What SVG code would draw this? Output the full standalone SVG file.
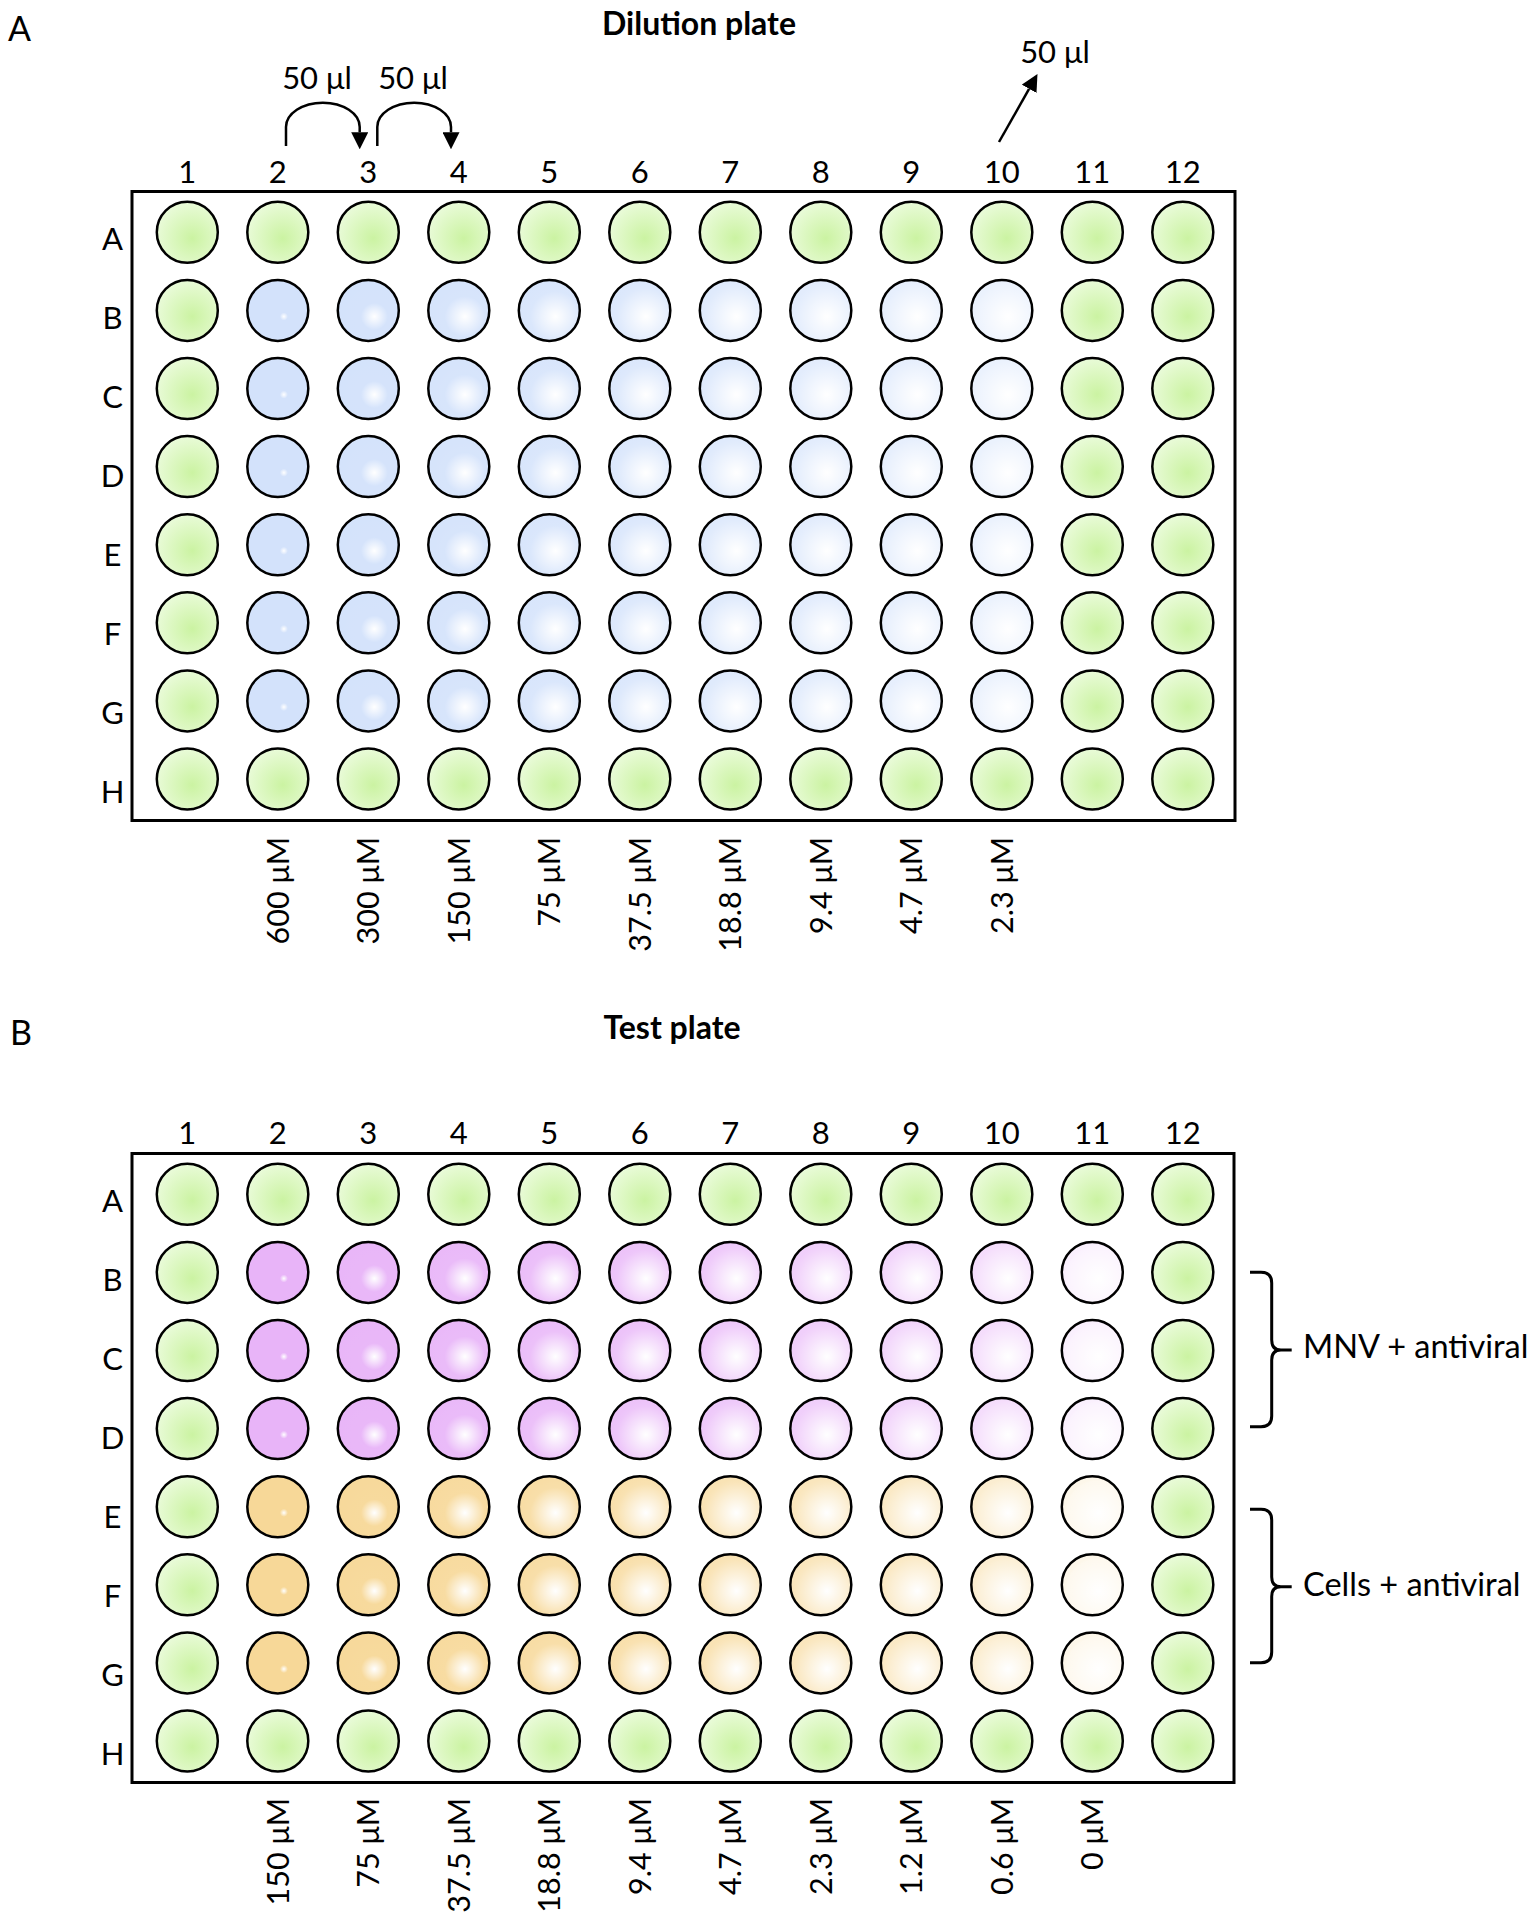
<svg xmlns="http://www.w3.org/2000/svg" width="1533" height="1920" viewBox="0 0 1533 1920">
<defs>
<radialGradient id="gg" cx="0.58" cy="0.6" r="0.6"><stop offset="0" stop-color="#cbf3a2"/><stop offset="1" stop-color="#e9fbd8"/></radialGradient>
<radialGradient id="h2" cx="0.6" cy="0.6" r="0.55"><stop offset="0" stop-color="#fff" stop-opacity="1"/><stop offset="0.12" stop-color="#fff" stop-opacity="0"/><stop offset="1" stop-color="#fff" stop-opacity="0"/></radialGradient>
<radialGradient id="h3" cx="0.6" cy="0.6" r="0.55"><stop offset="0" stop-color="#fff" stop-opacity="1"/><stop offset="0.4" stop-color="#fff" stop-opacity="0.05"/><stop offset="1" stop-color="#fff" stop-opacity="0.03"/></radialGradient>
<radialGradient id="h4" cx="0.6" cy="0.6" r="0.55"><stop offset="0" stop-color="#fff" stop-opacity="1"/><stop offset="0.6" stop-color="#fff" stop-opacity="0.1"/><stop offset="1" stop-color="#fff" stop-opacity="0.07"/></radialGradient>
<radialGradient id="h5" cx="0.6" cy="0.6" r="0.55"><stop offset="0" stop-color="#fff" stop-opacity="1"/><stop offset="0.75" stop-color="#fff" stop-opacity="0.17"/><stop offset="1" stop-color="#fff" stop-opacity="0.13"/></radialGradient>
<radialGradient id="h6" cx="0.6" cy="0.6" r="0.55"><stop offset="0" stop-color="#fff" stop-opacity="1"/><stop offset="0.85" stop-color="#fff" stop-opacity="0.25"/><stop offset="1" stop-color="#fff" stop-opacity="0.2"/></radialGradient>
<radialGradient id="h7" cx="0.6" cy="0.6" r="0.55"><stop offset="0" stop-color="#fff" stop-opacity="1"/><stop offset="0.9" stop-color="#fff" stop-opacity="0.33"/><stop offset="1" stop-color="#fff" stop-opacity="0.28"/></radialGradient>
<radialGradient id="h8" cx="0.6" cy="0.6" r="0.55"><stop offset="0" stop-color="#fff" stop-opacity="1"/><stop offset="0.9" stop-color="#fff" stop-opacity="0.41"/><stop offset="1" stop-color="#fff" stop-opacity="0.36"/></radialGradient>
<radialGradient id="h9" cx="0.6" cy="0.6" r="0.55"><stop offset="0" stop-color="#fff" stop-opacity="1"/><stop offset="0.92" stop-color="#fff" stop-opacity="0.5"/><stop offset="1" stop-color="#fff" stop-opacity="0.45"/></radialGradient>
<radialGradient id="h10" cx="0.6" cy="0.6" r="0.55"><stop offset="0" stop-color="#fff" stop-opacity="1"/><stop offset="0.92" stop-color="#fff" stop-opacity="0.6"/><stop offset="1" stop-color="#fff" stop-opacity="0.55"/></radialGradient>
<radialGradient id="h11" cx="0.6" cy="0.6" r="0.55"><stop offset="0" stop-color="#fff" stop-opacity="1"/><stop offset="0.95" stop-color="#fff" stop-opacity="0.84"/><stop offset="1" stop-color="#fff" stop-opacity="0.8"/></radialGradient>
<marker id="ah" viewBox="0 0 17 17" refX="0" refY="8.5" markerWidth="17" markerHeight="17" markerUnits="userSpaceOnUse" orient="auto"><path d="M0,0 L17,8.5 L0,17 z" fill="#000"/></marker>
<style>
text{font-family:Lato,"Open Sans","Liberation Sans",sans-serif;fill:#000;font-size:31px}
.t{font-weight:bold;font-size:32px;text-anchor:middle}
.p{font-size:34px}
.c{text-anchor:middle}
.r{text-anchor:middle}
.v{text-anchor:end;font-size:30.5px}
.bt{font-size:32.5px}
.plate{fill:#fff;stroke:#000;stroke-width:3}
.gr{fill:url(#gg);stroke:#000;stroke-width:2.5}
.b{fill:#d3e2fb}
.k{fill:#e8b4f8}
.y{fill:#f7d898}
.o{stroke:#000;stroke-width:2.5}
.h2{fill:url(#h2)}.h3{fill:url(#h3)}.h4{fill:url(#h4)}.h5{fill:url(#h5)}.h6{fill:url(#h6)}.h7{fill:url(#h7)}.h8{fill:url(#h8)}.h9{fill:url(#h9)}.h10{fill:url(#h10)}.h11{fill:url(#h11)}
.ln{fill:none;stroke:#000;stroke-width:2.5}
.br{fill:none;stroke:#000;stroke-width:3}
</style>
</defs>
<rect width="1533" height="1920" fill="#fff"/>

<g id="labelsA">
<text class="p" x="8" y="41">A</text>
<text class="t" x="699" y="35">Dilution plate</text>
<g id="colsA">
<text class="c" x="187.3" y="183">1</text><text class="c" x="277.8" y="183">2</text><text class="c" x="368.3" y="183">3</text><text class="c" x="458.8" y="183">4</text><text class="c" x="549.3" y="183">5</text><text class="c" x="639.8" y="183">6</text><text class="c" x="730.3" y="183">7</text><text class="c" x="820.8" y="183">8</text><text class="c" x="911.3" y="183">9</text><text class="c" x="1001.8" y="183">10</text><text class="c" x="1092.3" y="183">11</text><text class="c" x="1182.8" y="183">12</text>
</g>
<g id="rowsA">
<text class="r" x="112.5" y="249.7">A</text><text class="r" x="112.5" y="328.7">B</text><text class="r" x="112.5" y="407.7">C</text><text class="r" x="112.5" y="486.7">D</text><text class="r" x="112.5" y="565.7">E</text><text class="r" x="112.5" y="644.7">F</text><text class="r" x="112.5" y="723.7">G</text><text class="r" x="112.5" y="802.7">H</text>
</g>
<g id="concA">
<text class="v" transform="translate(288.8,837) rotate(-90)">600 μM</text>
<text class="v" transform="translate(379.3,837) rotate(-90)">300 μM</text>
<text class="v" transform="translate(469.8,837) rotate(-90)">150 μM</text>
<text class="v" transform="translate(560.3,837) rotate(-90)">75 μM</text>
<text class="v" transform="translate(650.8,837) rotate(-90)">37.5 μM</text>
<text class="v" transform="translate(741.3,837) rotate(-90)">18.8 μM</text>
<text class="v" transform="translate(831.8,837) rotate(-90)">9.4 μM</text>
<text class="v" transform="translate(922.3,837) rotate(-90)">4.7 μM</text>
<text class="v" transform="translate(1012.8,837) rotate(-90)">2.3 μM</text>
</g>
<text class="c" x="317" y="89">50 μl</text>
<text class="c" x="413" y="89">50 μl</text>
<text class="c" x="1055" y="63">50 μl</text>
</g>

<g id="connectors">
<path class="ln" marker-end="url(#ah)" d="M286,146 V127 A36.85,24.3 0 0 1 359.7,127 V132.3"/>
<path class="ln" marker-end="url(#ah)" d="M377.3,146 V127 A36.85,24.3 0 0 1 451,127 V132.3"/>
<path class="ln" marker-end="url(#ah)" d="M999,142 L1029.1,88.8"/>
</g>

<g id="plateA">
<rect class="plate" x="132" y="191.5" width="1103" height="629"/>
<g id="A-rowA">
<circle class="gr" cx="187.3" cy="232.3" r="30.5"/><circle class="gr" cx="277.8" cy="232.3" r="30.5"/><circle class="gr" cx="368.3" cy="232.3" r="30.5"/><circle class="gr" cx="458.8" cy="232.3" r="30.5"/><circle class="gr" cx="549.3" cy="232.3" r="30.5"/><circle class="gr" cx="639.8" cy="232.3" r="30.5"/><circle class="gr" cx="730.3" cy="232.3" r="30.5"/><circle class="gr" cx="820.8" cy="232.3" r="30.5"/><circle class="gr" cx="911.3" cy="232.3" r="30.5"/><circle class="gr" cx="1001.8" cy="232.3" r="30.5"/><circle class="gr" cx="1092.3" cy="232.3" r="30.5"/><circle class="gr" cx="1182.8" cy="232.3" r="30.5"/>
</g>
<g id="A-rowB">
<circle class="gr" cx="187.3" cy="310.4" r="30.5"/>
<circle class="b" cx="277.8" cy="310.4" r="30.5"/><circle class="o h2" cx="277.8" cy="310.4" r="30.5"/>
<circle class="b" cx="368.3" cy="310.4" r="30.5"/><circle class="o h3" cx="368.3" cy="310.4" r="30.5"/>
<circle class="b" cx="458.8" cy="310.4" r="30.5"/><circle class="o h4" cx="458.8" cy="310.4" r="30.5"/>
<circle class="b" cx="549.3" cy="310.4" r="30.5"/><circle class="o h5" cx="549.3" cy="310.4" r="30.5"/>
<circle class="b" cx="639.8" cy="310.4" r="30.5"/><circle class="o h6" cx="639.8" cy="310.4" r="30.5"/>
<circle class="b" cx="730.3" cy="310.4" r="30.5"/><circle class="o h7" cx="730.3" cy="310.4" r="30.5"/>
<circle class="b" cx="820.8" cy="310.4" r="30.5"/><circle class="o h8" cx="820.8" cy="310.4" r="30.5"/>
<circle class="b" cx="911.3" cy="310.4" r="30.5"/><circle class="o h9" cx="911.3" cy="310.4" r="30.5"/>
<circle class="b" cx="1001.8" cy="310.4" r="30.5"/><circle class="o h10" cx="1001.8" cy="310.4" r="30.5"/>
<circle class="gr" cx="1092.3" cy="310.4" r="30.5"/><circle class="gr" cx="1182.8" cy="310.4" r="30.5"/>
</g>
<g id="A-rowC">
<circle class="gr" cx="187.3" cy="388.5" r="30.5"/>
<circle class="b" cx="277.8" cy="388.5" r="30.5"/><circle class="o h2" cx="277.8" cy="388.5" r="30.5"/>
<circle class="b" cx="368.3" cy="388.5" r="30.5"/><circle class="o h3" cx="368.3" cy="388.5" r="30.5"/>
<circle class="b" cx="458.8" cy="388.5" r="30.5"/><circle class="o h4" cx="458.8" cy="388.5" r="30.5"/>
<circle class="b" cx="549.3" cy="388.5" r="30.5"/><circle class="o h5" cx="549.3" cy="388.5" r="30.5"/>
<circle class="b" cx="639.8" cy="388.5" r="30.5"/><circle class="o h6" cx="639.8" cy="388.5" r="30.5"/>
<circle class="b" cx="730.3" cy="388.5" r="30.5"/><circle class="o h7" cx="730.3" cy="388.5" r="30.5"/>
<circle class="b" cx="820.8" cy="388.5" r="30.5"/><circle class="o h8" cx="820.8" cy="388.5" r="30.5"/>
<circle class="b" cx="911.3" cy="388.5" r="30.5"/><circle class="o h9" cx="911.3" cy="388.5" r="30.5"/>
<circle class="b" cx="1001.8" cy="388.5" r="30.5"/><circle class="o h10" cx="1001.8" cy="388.5" r="30.5"/>
<circle class="gr" cx="1092.3" cy="388.5" r="30.5"/><circle class="gr" cx="1182.8" cy="388.5" r="30.5"/>
</g>
<g id="A-rowD">
<circle class="gr" cx="187.3" cy="466.6" r="30.5"/>
<circle class="b" cx="277.8" cy="466.6" r="30.5"/><circle class="o h2" cx="277.8" cy="466.6" r="30.5"/>
<circle class="b" cx="368.3" cy="466.6" r="30.5"/><circle class="o h3" cx="368.3" cy="466.6" r="30.5"/>
<circle class="b" cx="458.8" cy="466.6" r="30.5"/><circle class="o h4" cx="458.8" cy="466.6" r="30.5"/>
<circle class="b" cx="549.3" cy="466.6" r="30.5"/><circle class="o h5" cx="549.3" cy="466.6" r="30.5"/>
<circle class="b" cx="639.8" cy="466.6" r="30.5"/><circle class="o h6" cx="639.8" cy="466.6" r="30.5"/>
<circle class="b" cx="730.3" cy="466.6" r="30.5"/><circle class="o h7" cx="730.3" cy="466.6" r="30.5"/>
<circle class="b" cx="820.8" cy="466.6" r="30.5"/><circle class="o h8" cx="820.8" cy="466.6" r="30.5"/>
<circle class="b" cx="911.3" cy="466.6" r="30.5"/><circle class="o h9" cx="911.3" cy="466.6" r="30.5"/>
<circle class="b" cx="1001.8" cy="466.6" r="30.5"/><circle class="o h10" cx="1001.8" cy="466.6" r="30.5"/>
<circle class="gr" cx="1092.3" cy="466.6" r="30.5"/><circle class="gr" cx="1182.8" cy="466.6" r="30.5"/>
</g>
<g id="A-rowE">
<circle class="gr" cx="187.3" cy="544.7" r="30.5"/>
<circle class="b" cx="277.8" cy="544.7" r="30.5"/><circle class="o h2" cx="277.8" cy="544.7" r="30.5"/>
<circle class="b" cx="368.3" cy="544.7" r="30.5"/><circle class="o h3" cx="368.3" cy="544.7" r="30.5"/>
<circle class="b" cx="458.8" cy="544.7" r="30.5"/><circle class="o h4" cx="458.8" cy="544.7" r="30.5"/>
<circle class="b" cx="549.3" cy="544.7" r="30.5"/><circle class="o h5" cx="549.3" cy="544.7" r="30.5"/>
<circle class="b" cx="639.8" cy="544.7" r="30.5"/><circle class="o h6" cx="639.8" cy="544.7" r="30.5"/>
<circle class="b" cx="730.3" cy="544.7" r="30.5"/><circle class="o h7" cx="730.3" cy="544.7" r="30.5"/>
<circle class="b" cx="820.8" cy="544.7" r="30.5"/><circle class="o h8" cx="820.8" cy="544.7" r="30.5"/>
<circle class="b" cx="911.3" cy="544.7" r="30.5"/><circle class="o h9" cx="911.3" cy="544.7" r="30.5"/>
<circle class="b" cx="1001.8" cy="544.7" r="30.5"/><circle class="o h10" cx="1001.8" cy="544.7" r="30.5"/>
<circle class="gr" cx="1092.3" cy="544.7" r="30.5"/><circle class="gr" cx="1182.8" cy="544.7" r="30.5"/>
</g>
<g id="A-rowF">
<circle class="gr" cx="187.3" cy="622.8" r="30.5"/>
<circle class="b" cx="277.8" cy="622.8" r="30.5"/><circle class="o h2" cx="277.8" cy="622.8" r="30.5"/>
<circle class="b" cx="368.3" cy="622.8" r="30.5"/><circle class="o h3" cx="368.3" cy="622.8" r="30.5"/>
<circle class="b" cx="458.8" cy="622.8" r="30.5"/><circle class="o h4" cx="458.8" cy="622.8" r="30.5"/>
<circle class="b" cx="549.3" cy="622.8" r="30.5"/><circle class="o h5" cx="549.3" cy="622.8" r="30.5"/>
<circle class="b" cx="639.8" cy="622.8" r="30.5"/><circle class="o h6" cx="639.8" cy="622.8" r="30.5"/>
<circle class="b" cx="730.3" cy="622.8" r="30.5"/><circle class="o h7" cx="730.3" cy="622.8" r="30.5"/>
<circle class="b" cx="820.8" cy="622.8" r="30.5"/><circle class="o h8" cx="820.8" cy="622.8" r="30.5"/>
<circle class="b" cx="911.3" cy="622.8" r="30.5"/><circle class="o h9" cx="911.3" cy="622.8" r="30.5"/>
<circle class="b" cx="1001.8" cy="622.8" r="30.5"/><circle class="o h10" cx="1001.8" cy="622.8" r="30.5"/>
<circle class="gr" cx="1092.3" cy="622.8" r="30.5"/><circle class="gr" cx="1182.8" cy="622.8" r="30.5"/>
</g>
<g id="A-rowG">
<circle class="gr" cx="187.3" cy="700.9" r="30.5"/>
<circle class="b" cx="277.8" cy="700.9" r="30.5"/><circle class="o h2" cx="277.8" cy="700.9" r="30.5"/>
<circle class="b" cx="368.3" cy="700.9" r="30.5"/><circle class="o h3" cx="368.3" cy="700.9" r="30.5"/>
<circle class="b" cx="458.8" cy="700.9" r="30.5"/><circle class="o h4" cx="458.8" cy="700.9" r="30.5"/>
<circle class="b" cx="549.3" cy="700.9" r="30.5"/><circle class="o h5" cx="549.3" cy="700.9" r="30.5"/>
<circle class="b" cx="639.8" cy="700.9" r="30.5"/><circle class="o h6" cx="639.8" cy="700.9" r="30.5"/>
<circle class="b" cx="730.3" cy="700.9" r="30.5"/><circle class="o h7" cx="730.3" cy="700.9" r="30.5"/>
<circle class="b" cx="820.8" cy="700.9" r="30.5"/><circle class="o h8" cx="820.8" cy="700.9" r="30.5"/>
<circle class="b" cx="911.3" cy="700.9" r="30.5"/><circle class="o h9" cx="911.3" cy="700.9" r="30.5"/>
<circle class="b" cx="1001.8" cy="700.9" r="30.5"/><circle class="o h10" cx="1001.8" cy="700.9" r="30.5"/>
<circle class="gr" cx="1092.3" cy="700.9" r="30.5"/><circle class="gr" cx="1182.8" cy="700.9" r="30.5"/>
</g>
<g id="A-rowH">
<circle class="gr" cx="187.3" cy="779" r="30.5"/><circle class="gr" cx="277.8" cy="779" r="30.5"/><circle class="gr" cx="368.3" cy="779" r="30.5"/><circle class="gr" cx="458.8" cy="779" r="30.5"/><circle class="gr" cx="549.3" cy="779" r="30.5"/><circle class="gr" cx="639.8" cy="779" r="30.5"/><circle class="gr" cx="730.3" cy="779" r="30.5"/><circle class="gr" cx="820.8" cy="779" r="30.5"/><circle class="gr" cx="911.3" cy="779" r="30.5"/><circle class="gr" cx="1001.8" cy="779" r="30.5"/><circle class="gr" cx="1092.3" cy="779" r="30.5"/><circle class="gr" cx="1182.8" cy="779" r="30.5"/>
</g>
</g>

<g id="labelsB">
<text class="p" x="10" y="1045">B</text>
<text class="t" x="672" y="1039">Test plate</text>
<g id="colsB">
<text class="c" x="187.3" y="1144">1</text><text class="c" x="277.8" y="1144">2</text><text class="c" x="368.3" y="1144">3</text><text class="c" x="458.8" y="1144">4</text><text class="c" x="549.3" y="1144">5</text><text class="c" x="639.8" y="1144">6</text><text class="c" x="730.3" y="1144">7</text><text class="c" x="820.8" y="1144">8</text><text class="c" x="911.3" y="1144">9</text><text class="c" x="1001.8" y="1144">10</text><text class="c" x="1092.3" y="1144">11</text><text class="c" x="1182.8" y="1144">12</text>
</g>
<g id="rowsB">
<text class="r" x="112.5" y="1211.7">A</text><text class="r" x="112.5" y="1290.7">B</text><text class="r" x="112.5" y="1369.7">C</text><text class="r" x="112.5" y="1448.7">D</text><text class="r" x="112.5" y="1527.7">E</text><text class="r" x="112.5" y="1606.7">F</text><text class="r" x="112.5" y="1685.7">G</text><text class="r" x="112.5" y="1764.7">H</text>
</g>
<g id="concB">
<text class="v" transform="translate(288.8,1798) rotate(-90)">150 μM</text>
<text class="v" transform="translate(379.3,1798) rotate(-90)">75 μM</text>
<text class="v" transform="translate(469.8,1798) rotate(-90)">37.5 μM</text>
<text class="v" transform="translate(560.3,1798) rotate(-90)">18.8 μM</text>
<text class="v" transform="translate(650.8,1798) rotate(-90)">9.4 μM</text>
<text class="v" transform="translate(741.3,1798) rotate(-90)">4.7 μM</text>
<text class="v" transform="translate(831.8,1798) rotate(-90)">2.3 μM</text>
<text class="v" transform="translate(922.3,1798) rotate(-90)">1.2 μM</text>
<text class="v" transform="translate(1012.8,1798) rotate(-90)">0.6 μM</text>
<text class="v" transform="translate(1103.3,1798) rotate(-90)">0 μM</text>
</g>
</g>

<g id="plateB">
<rect class="plate" x="132" y="1153.5" width="1102" height="629"/>
<g id="B-rowA">
<circle class="gr" cx="187.3" cy="1194.3" r="30.5"/><circle class="gr" cx="277.8" cy="1194.3" r="30.5"/><circle class="gr" cx="368.3" cy="1194.3" r="30.5"/><circle class="gr" cx="458.8" cy="1194.3" r="30.5"/><circle class="gr" cx="549.3" cy="1194.3" r="30.5"/><circle class="gr" cx="639.8" cy="1194.3" r="30.5"/><circle class="gr" cx="730.3" cy="1194.3" r="30.5"/><circle class="gr" cx="820.8" cy="1194.3" r="30.5"/><circle class="gr" cx="911.3" cy="1194.3" r="30.5"/><circle class="gr" cx="1001.8" cy="1194.3" r="30.5"/><circle class="gr" cx="1092.3" cy="1194.3" r="30.5"/><circle class="gr" cx="1182.8" cy="1194.3" r="30.5"/>
</g>
<g id="B-rowB">
<circle class="gr" cx="187.3" cy="1272.4" r="30.5"/>
<circle class="k" cx="277.8" cy="1272.4" r="30.5"/><circle class="o h2" cx="277.8" cy="1272.4" r="30.5"/>
<circle class="k" cx="368.3" cy="1272.4" r="30.5"/><circle class="o h3" cx="368.3" cy="1272.4" r="30.5"/>
<circle class="k" cx="458.8" cy="1272.4" r="30.5"/><circle class="o h4" cx="458.8" cy="1272.4" r="30.5"/>
<circle class="k" cx="549.3" cy="1272.4" r="30.5"/><circle class="o h5" cx="549.3" cy="1272.4" r="30.5"/>
<circle class="k" cx="639.8" cy="1272.4" r="30.5"/><circle class="o h6" cx="639.8" cy="1272.4" r="30.5"/>
<circle class="k" cx="730.3" cy="1272.4" r="30.5"/><circle class="o h7" cx="730.3" cy="1272.4" r="30.5"/>
<circle class="k" cx="820.8" cy="1272.4" r="30.5"/><circle class="o h8" cx="820.8" cy="1272.4" r="30.5"/>
<circle class="k" cx="911.3" cy="1272.4" r="30.5"/><circle class="o h9" cx="911.3" cy="1272.4" r="30.5"/>
<circle class="k" cx="1001.8" cy="1272.4" r="30.5"/><circle class="o h10" cx="1001.8" cy="1272.4" r="30.5"/>
<circle class="k" cx="1092.3" cy="1272.4" r="30.5"/><circle class="o h11" cx="1092.3" cy="1272.4" r="30.5"/>
<circle class="gr" cx="1182.8" cy="1272.4" r="30.5"/>
</g>
<g id="B-rowC">
<circle class="gr" cx="187.3" cy="1350.5" r="30.5"/>
<circle class="k" cx="277.8" cy="1350.5" r="30.5"/><circle class="o h2" cx="277.8" cy="1350.5" r="30.5"/>
<circle class="k" cx="368.3" cy="1350.5" r="30.5"/><circle class="o h3" cx="368.3" cy="1350.5" r="30.5"/>
<circle class="k" cx="458.8" cy="1350.5" r="30.5"/><circle class="o h4" cx="458.8" cy="1350.5" r="30.5"/>
<circle class="k" cx="549.3" cy="1350.5" r="30.5"/><circle class="o h5" cx="549.3" cy="1350.5" r="30.5"/>
<circle class="k" cx="639.8" cy="1350.5" r="30.5"/><circle class="o h6" cx="639.8" cy="1350.5" r="30.5"/>
<circle class="k" cx="730.3" cy="1350.5" r="30.5"/><circle class="o h7" cx="730.3" cy="1350.5" r="30.5"/>
<circle class="k" cx="820.8" cy="1350.5" r="30.5"/><circle class="o h8" cx="820.8" cy="1350.5" r="30.5"/>
<circle class="k" cx="911.3" cy="1350.5" r="30.5"/><circle class="o h9" cx="911.3" cy="1350.5" r="30.5"/>
<circle class="k" cx="1001.8" cy="1350.5" r="30.5"/><circle class="o h10" cx="1001.8" cy="1350.5" r="30.5"/>
<circle class="k" cx="1092.3" cy="1350.5" r="30.5"/><circle class="o h11" cx="1092.3" cy="1350.5" r="30.5"/>
<circle class="gr" cx="1182.8" cy="1350.5" r="30.5"/>
</g>
<g id="B-rowD">
<circle class="gr" cx="187.3" cy="1428.6" r="30.5"/>
<circle class="k" cx="277.8" cy="1428.6" r="30.5"/><circle class="o h2" cx="277.8" cy="1428.6" r="30.5"/>
<circle class="k" cx="368.3" cy="1428.6" r="30.5"/><circle class="o h3" cx="368.3" cy="1428.6" r="30.5"/>
<circle class="k" cx="458.8" cy="1428.6" r="30.5"/><circle class="o h4" cx="458.8" cy="1428.6" r="30.5"/>
<circle class="k" cx="549.3" cy="1428.6" r="30.5"/><circle class="o h5" cx="549.3" cy="1428.6" r="30.5"/>
<circle class="k" cx="639.8" cy="1428.6" r="30.5"/><circle class="o h6" cx="639.8" cy="1428.6" r="30.5"/>
<circle class="k" cx="730.3" cy="1428.6" r="30.5"/><circle class="o h7" cx="730.3" cy="1428.6" r="30.5"/>
<circle class="k" cx="820.8" cy="1428.6" r="30.5"/><circle class="o h8" cx="820.8" cy="1428.6" r="30.5"/>
<circle class="k" cx="911.3" cy="1428.6" r="30.5"/><circle class="o h9" cx="911.3" cy="1428.6" r="30.5"/>
<circle class="k" cx="1001.8" cy="1428.6" r="30.5"/><circle class="o h10" cx="1001.8" cy="1428.6" r="30.5"/>
<circle class="k" cx="1092.3" cy="1428.6" r="30.5"/><circle class="o h11" cx="1092.3" cy="1428.6" r="30.5"/>
<circle class="gr" cx="1182.8" cy="1428.6" r="30.5"/>
</g>
<g id="B-rowE">
<circle class="gr" cx="187.3" cy="1506.7" r="30.5"/>
<circle class="y" cx="277.8" cy="1506.7" r="30.5"/><circle class="o h2" cx="277.8" cy="1506.7" r="30.5"/>
<circle class="y" cx="368.3" cy="1506.7" r="30.5"/><circle class="o h3" cx="368.3" cy="1506.7" r="30.5"/>
<circle class="y" cx="458.8" cy="1506.7" r="30.5"/><circle class="o h4" cx="458.8" cy="1506.7" r="30.5"/>
<circle class="y" cx="549.3" cy="1506.7" r="30.5"/><circle class="o h5" cx="549.3" cy="1506.7" r="30.5"/>
<circle class="y" cx="639.8" cy="1506.7" r="30.5"/><circle class="o h6" cx="639.8" cy="1506.7" r="30.5"/>
<circle class="y" cx="730.3" cy="1506.7" r="30.5"/><circle class="o h7" cx="730.3" cy="1506.7" r="30.5"/>
<circle class="y" cx="820.8" cy="1506.7" r="30.5"/><circle class="o h8" cx="820.8" cy="1506.7" r="30.5"/>
<circle class="y" cx="911.3" cy="1506.7" r="30.5"/><circle class="o h9" cx="911.3" cy="1506.7" r="30.5"/>
<circle class="y" cx="1001.8" cy="1506.7" r="30.5"/><circle class="o h10" cx="1001.8" cy="1506.7" r="30.5"/>
<circle class="y" cx="1092.3" cy="1506.7" r="30.5"/><circle class="o h11" cx="1092.3" cy="1506.7" r="30.5"/>
<circle class="gr" cx="1182.8" cy="1506.7" r="30.5"/>
</g>
<g id="B-rowF">
<circle class="gr" cx="187.3" cy="1584.8" r="30.5"/>
<circle class="y" cx="277.8" cy="1584.8" r="30.5"/><circle class="o h2" cx="277.8" cy="1584.8" r="30.5"/>
<circle class="y" cx="368.3" cy="1584.8" r="30.5"/><circle class="o h3" cx="368.3" cy="1584.8" r="30.5"/>
<circle class="y" cx="458.8" cy="1584.8" r="30.5"/><circle class="o h4" cx="458.8" cy="1584.8" r="30.5"/>
<circle class="y" cx="549.3" cy="1584.8" r="30.5"/><circle class="o h5" cx="549.3" cy="1584.8" r="30.5"/>
<circle class="y" cx="639.8" cy="1584.8" r="30.5"/><circle class="o h6" cx="639.8" cy="1584.8" r="30.5"/>
<circle class="y" cx="730.3" cy="1584.8" r="30.5"/><circle class="o h7" cx="730.3" cy="1584.8" r="30.5"/>
<circle class="y" cx="820.8" cy="1584.8" r="30.5"/><circle class="o h8" cx="820.8" cy="1584.8" r="30.5"/>
<circle class="y" cx="911.3" cy="1584.8" r="30.5"/><circle class="o h9" cx="911.3" cy="1584.8" r="30.5"/>
<circle class="y" cx="1001.8" cy="1584.8" r="30.5"/><circle class="o h10" cx="1001.8" cy="1584.8" r="30.5"/>
<circle class="y" cx="1092.3" cy="1584.8" r="30.5"/><circle class="o h11" cx="1092.3" cy="1584.8" r="30.5"/>
<circle class="gr" cx="1182.8" cy="1584.8" r="30.5"/>
</g>
<g id="B-rowG">
<circle class="gr" cx="187.3" cy="1662.9" r="30.5"/>
<circle class="y" cx="277.8" cy="1662.9" r="30.5"/><circle class="o h2" cx="277.8" cy="1662.9" r="30.5"/>
<circle class="y" cx="368.3" cy="1662.9" r="30.5"/><circle class="o h3" cx="368.3" cy="1662.9" r="30.5"/>
<circle class="y" cx="458.8" cy="1662.9" r="30.5"/><circle class="o h4" cx="458.8" cy="1662.9" r="30.5"/>
<circle class="y" cx="549.3" cy="1662.9" r="30.5"/><circle class="o h5" cx="549.3" cy="1662.9" r="30.5"/>
<circle class="y" cx="639.8" cy="1662.9" r="30.5"/><circle class="o h6" cx="639.8" cy="1662.9" r="30.5"/>
<circle class="y" cx="730.3" cy="1662.9" r="30.5"/><circle class="o h7" cx="730.3" cy="1662.9" r="30.5"/>
<circle class="y" cx="820.8" cy="1662.9" r="30.5"/><circle class="o h8" cx="820.8" cy="1662.9" r="30.5"/>
<circle class="y" cx="911.3" cy="1662.9" r="30.5"/><circle class="o h9" cx="911.3" cy="1662.9" r="30.5"/>
<circle class="y" cx="1001.8" cy="1662.9" r="30.5"/><circle class="o h10" cx="1001.8" cy="1662.9" r="30.5"/>
<circle class="y" cx="1092.3" cy="1662.9" r="30.5"/><circle class="o h11" cx="1092.3" cy="1662.9" r="30.5"/>
<circle class="gr" cx="1182.8" cy="1662.9" r="30.5"/>
</g>
<g id="B-rowH">
<circle class="gr" cx="187.3" cy="1741" r="30.5"/><circle class="gr" cx="277.8" cy="1741" r="30.5"/><circle class="gr" cx="368.3" cy="1741" r="30.5"/><circle class="gr" cx="458.8" cy="1741" r="30.5"/><circle class="gr" cx="549.3" cy="1741" r="30.5"/><circle class="gr" cx="639.8" cy="1741" r="30.5"/><circle class="gr" cx="730.3" cy="1741" r="30.5"/><circle class="gr" cx="820.8" cy="1741" r="30.5"/><circle class="gr" cx="911.3" cy="1741" r="30.5"/><circle class="gr" cx="1001.8" cy="1741" r="30.5"/><circle class="gr" cx="1092.3" cy="1741" r="30.5"/><circle class="gr" cx="1182.8" cy="1741" r="30.5"/>
</g>
</g>

<g id="bracketMNV">
<path class="br" d="M1250,1272.3 H1261 Q1271.7,1272.3 1271.7,1283 V1340 Q1271.7,1350 1281,1350 H1291.7 M1281,1350 Q1271.7,1350 1271.7,1360 V1416 Q1271.7,1426.7 1261,1426.7 H1250"/>
<text class="bt" x="1303" y="1358.3">MNV + antiviral</text>
</g>
<g id="bracketCells">
<path class="br" d="M1250,1509.3 H1261 Q1271.7,1509.3 1271.7,1520 V1577 Q1271.7,1586.7 1281,1586.7 H1291.7 M1281,1586.7 Q1271.7,1586.7 1271.7,1596.4 V1652 Q1271.7,1662.7 1261,1662.7 H1250"/>
<text class="bt" x="1303" y="1596">Cells + antiviral</text>
</g>
</svg>
